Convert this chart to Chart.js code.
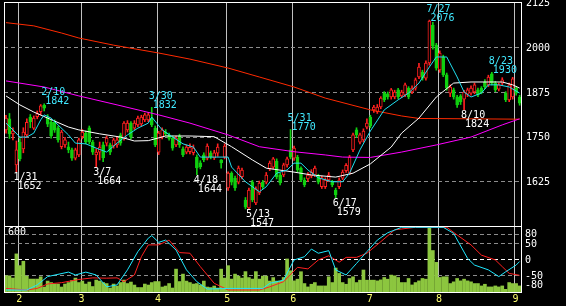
<!DOCTYPE html>
<html>
<head>
<meta charset="utf-8">
<script src="https://cdn.jsdelivr.net/npm/chart.js@4"></script>
<style>
  html, body { margin: 0; background: #000; }
  #wrap { width: 566px; height: 306px; }
</style>
</head>
<body>
<div id="wrap"><canvas id="chart" width="566" height="306"></canvas></div>
<script>
// daily candles, index 0 = 1/26 ... 148 = 9/2
const openP = [
  1769,1800,1758,1671,1735,1716,1755,1805,1774,1806,1820,1838,1805,1790,1790,1775,1722,1727,1722,1713,1690,1699,
  1750,1760,1775,1735,1699,1707,1727,1732,1727,1724,1727,1755,1746,1769,1788,1774,1783,1786,1797,1797,1802,1774,
  1707,1749,1763,1755,1746,1727,1752,1716,1707,1708,1705,1693,1677,1699,1690,1705,1691,1704,1685,1693,
  1607,1648,1634,1623,1638,1573,1551,1623,1565,1593,1623,1623,1660,1665,1682,1643,1643,1671,1713,
  1690,1693,1662,1629,1632,1640,1643,1640,1610,1610,1629,1623,1601,1610,1634,1655,1648,1713,1769,1735,1741,1777,
  1805,1825,1820,1833,1872,1870,1861,1861,1881,1864,1867,1886,1875,1886,1917,1931,1914,1956,2062,2006,
  1937,1973,1923,1872,1881,1861,1864,1855,1869,1872,1875,1881,1886,1903,1895,1926,1900,1883,1900,1872,1853,1861,
  1886,1861
];
const highP = [
  1810,1815,1775,1738,1745,1775,1800,1812,1808,1822,1840,1842,1812,1796,1797,1780,1768,1748,1735,1718,1718,1746,
  1770,1766,1780,1740,1716,1735,1735,1752,1732,1746,1750,1760,1792,1795,1792,1795,1808,1810,1816,1818,1832,1780,
  1765,1775,1770,1760,1752,1752,1757,1722,1727,1730,1727,1699,1683,1705,1730,1710,1712,1730,1686,1730,
  1652,1652,1640,1668,1662,1580,1606,1628,1610,1626,1628,1650,1682,1692,1688,1648,1676,1693,1770,
  1724,1698,1666,1635,1650,1658,1668,1645,1640,1635,1650,1628,1606,1635,1657,1675,1698,1760,1775,1760,1772,1800,
  1810,1838,1840,1862,1876,1875,1885,1880,1885,1880,1900,1890,1892,1914,1955,1936,1962,2076,2070,2011,
  1990,1978,1928,1895,1886,1866,1868,1880,1886,1892,1900,1886,1890,1910,1922,1930,1905,1900,1915,1876,1900,1916,
  1890,1866
];
const lowP = [
  1760,1745,1741,1652,1682,1705,1748,1775,1770,1800,1812,1822,1778,1746,1762,1735,1716,1720,1705,1684,1685,1694,
  1744,1730,1730,1700,1664,1685,1680,1724,1700,1718,1720,1726,1740,1763,1744,1770,1778,1780,1792,1792,1778,1722,
  1700,1744,1752,1740,1712,1722,1720,1694,1702,1702,1699,1644,1660,1680,1685,1688,1686,1695,1662,1688,
  1600,1615,1600,1618,1632,1548,1547,1568,1560,1588,1605,1618,1655,1660,1632,1615,1638,1665,1688,
  1684,1652,1624,1610,1625,1635,1638,1618,1605,1605,1624,1610,1579,1605,1630,1650,1644,1708,1748,1730,1735,1772,
  1775,1818,1815,1828,1848,1855,1855,1856,1856,1860,1862,1856,1870,1880,1912,1908,1908,1950,1995,1936,
  1930,1918,1880,1862,1855,1832,1840,1824,1862,1866,1870,1862,1870,1884,1890,1895,1876,1878,1895,1848,1848,1855,
  1866,1838
];
const closeP = [
  1802,1758,1766,1713,1688,1763,1790,1791,1802,1815,1836,1830,1785,1752,1768,1741,1763,1741,1713,1690,1713,1741,
  1763,1735,1736,1707,1707,1721,1691,1746,1707,1741,1741,1732,1788,1788,1749,1788,1802,1805,1811,1811,1783,1727,
  1760,1769,1758,1745,1718,1746,1727,1699,1721,1720,1718,1663,1666,1685,1724,1694,1705,1721,1677,1724,
  1648,1623,1607,1662,1657,1553,1601,1573,1604,1620,1610,1643,1676,1688,1638,1621,1671,1688,1693,
  1718,1657,1629,1615,1643,1651,1662,1623,1635,1629,1643,1615,1587,1629,1651,1670,1693,1755,1755,1755,1766,1788,
  1780,1833,1833,1858,1853,1861,1881,1875,1861,1875,1895,1861,1886,1909,1945,1914,1956,2073,2003,1942,
  1984,1923,1886,1889,1861,1839,1847,1875,1881,1886,1895,1867,1875,1889,1917,1900,1881,1895,1909,1853,1895,1912,
  1872,1844
];
const volume = [
  173,173,150,393,275,319,170,140,140,140,163,60,120,105,90,90,60,90,105,125,150,105,
  120,90,110,65,130,120,105,95,50,90,70,105,130,95,110,80,55,55,90,80,105,115,
  115,60,70,95,50,240,115,190,120,105,90,95,80,120,60,55,70,50,240,150,
  275,140,190,170,150,215,155,140,215,140,170,170,120,155,120,120,156,342,224,
  122,139,214,95,61,88,105,71,71,71,163,105,251,197,105,88,146,163,105,129,231,129,
  129,129,122,132,156,139,180,173,156,105,105,146,81,105,122,146,139,658,427,308,
  156,163,163,95,112,146,122,139,122,112,95,95,71,88,61,61,71,61,71,37,105,95,
  95,71
];

// moving averages: [day index, price]
const maShort = [[0,1788],[2,1769],[4,1749],[6,1749],[8,1760],[10,1797],[11,1811],[13,1802],[15,1783],[18,1755],
  [20,1732],[23,1730],[26,1718],[29,1707],[32,1732],[35,1755],[38,1774],[41,1788],[42,1805],[45,1769],[48,1749],
  [51,1730],[54,1721],[56,1693],[60,1693],[64,1693],[65,1665],[69,1624],[73,1596],[75,1610],[78,1648],[81,1657],
  [83,1676],[85,1676],[87,1657],[90,1635],[94,1624],[97,1624],[99,1648],[102,1713],[105,1766],[109,1825],[113,1853],
  [116,1872],[119,1900],[122,1945],[124,1973],[127,1973],[130,1917],[132,1875],[134,1861],[137,1872],[139,1895],
  [142,1895],[145,1889],[148,1872]];
const ma25 = [[0,1864],[4,1839],[8,1819],[12,1802],[18,1777],[21,1769],[27,1758],[33,1749],[37,1738],[41,1739],
  [46,1752],[53,1752],[60,1750],[65,1722],[71,1685],[75,1662],[83,1651],[88,1643],[95,1637],[100,1648],[105,1674],
  [111,1721],[114,1760],[119,1802],[124,1861],[129,1900],[134,1903],[143,1903],[146,1895],[148,1886]];
const ma75 = [[0,1906],[11,1889],[21,1864],[32,1839],[44,1811],[53,1788],[64,1755],[73,1722],[83,1708],[92,1699],
  [97,1693],[105,1692],[114,1707],[124,1727],[134,1749],[143,1783],[148,1800]];
const ma200 = [[0,2069],[8,2060],[16,2040],[21,2026],[31,2006],[44,1984],[53,1967],[64,1942],[73,1917],[83,1889],
  [92,1858],[105,1825],[114,1808],[119,1801],[148,1799]];

// oscillators in the lower panel: [day index, value]
const oscFast = [[0,-96],[6,-96],[9,-80],[12,-54],[18,-40],[20,-49],[23,-40],[26,-49],[29,-86],[32,-80],[35,-33],
  [38,24],[41,66],[42,74],[44,53],[46,60],[49,29],[52,-33],[55,-70],[58,-93],[64,-91],[74,-91],[76,-75],[80,-65],
  [83,-2],[86,8],[88,32],[90,19],[93,27],[95,-33],[98,-49],[101,-13],[104,24],[107,60],[110,83],[114,100],[118,100],
  [126,100],[129,81],[133,3],[135,-18],[139,-33],[142,-54],[144,-39],[147,-18],[148,-7]];
const oscSlow = [[0,-91],[6,-96],[9,-91],[12,-77],[16,-73],[21,-63],[25,-58],[29,-59],[32,-58],[34,-70],[37,-49],
  [39,8],[41,45],[44,45],[47,60],[50,21],[53,19],[56,-23],[60,-75],[64,-96],[73,-96],[76,-86],[80,-70],[84,-25],
  [87,-30],[90,-2],[93,11],[96,-9],[98,6],[101,6],[104,19],[108,55],[112,92],[118,100],[127,100],[130,76],[134,45],
  [137,13],[141,-2],[143,-23],[145,-44],[148,-50]];

const priceTicks = [2125, 2000, 1875, 1750, 1625];
const oscTicks = [80, 50, 0, -50, -80];
const monthStarts = [3.5, 21.5, 43.5, 63.5, 82.5, 104.5, 124.5, 146.5];
const monthLabels = ['2', '3', '4', '5', '6', '7', '8', '9'];
// [day index, date, price]
const highMarks = [[11,'2/10',1842],[42,'3/30',1832],[82,'5/31',1770],[122,'7/27',2076],[140,'8/23',1930]];
const lowMarks = [[3,'1/31',1652],[26,'3/7',1664],[55,'4/18',1644],[70,'5/13',1547],[95,'6/17',1579],[132,'8/10',1824]];

const RED = '#ff2020';
const GREEN = '#10d010';
const FONT = '10px "DejaVu Sans Mono", monospace';

const isUp = openP.map((o, i) => closeP[i] >= o);
const pts = arr => arr.map(p => ({ x: p[0], y: p[1] }));

function hline(ctx, x1, x2, y) {
  ctx.beginPath(); ctx.moveTo(x1, y); ctx.lineTo(x2, y); ctx.stroke();
}

const panelPlugin = {
  id: 'panel',
  beforeDatasetsDraw(chart) {
    const { ctx, chartArea: a, scales } = chart;
    ctx.save();
    ctx.lineWidth = 1;
    // month lines
    ctx.strokeStyle = '#c0c0c0';
    monthStarts.forEach(m => {
      const px = Math.round(scales.x.getPixelForValue(m)) + 0.5;
      ctx.beginPath(); ctx.moveTo(px, a.top); ctx.lineTo(px, a.bottom); ctx.stroke();
    });
    ctx.setLineDash([4, 3]);
    ctx.strokeStyle = '#8c8c8c';
    priceTicks.slice(1).forEach(t => hline(ctx, a.left, a.right, Math.round(scales.y.getPixelForValue(t)) + 0.5));
    [80, 50, -50].forEach(t => hline(ctx, a.left, a.right, Math.round(scales.yo.getPixelForValue(t)) + 0.5));
    ctx.strokeStyle = '#ffffff';
    hline(ctx, a.left, a.right, Math.round(scales.yo.getPixelForValue(0)) + 0.5);
    ctx.restore();
  },
  afterDatasetsDraw(chart) {
    const { ctx, chartArea: a, scales } = chart;
    ctx.save();
    ctx.lineWidth = 1;
    ctx.strokeStyle = '#ffffff';
    ctx.strokeRect(a.left + 0.5, a.top + 0.5, a.right - a.left - 1, a.bottom - a.top - 1);
    hline(ctx, a.left, a.right, Math.round(scales.y.getPixelForValue(1500)) + 0.5);

    ctx.font = FONT;
    ctx.fillStyle = '#ffffff';
    ctx.textAlign = 'left';
    ctx.textBaseline = 'middle';
    priceTicks.forEach(t => ctx.fillText(String(t), a.right + 4, scales.y.getPixelForValue(t) + 1));
    oscTicks.forEach(t => ctx.fillText(String(t), a.right + 3, scales.yo.getPixelForValue(t) + 1));
    ctx.textBaseline = 'alphabetic';
    ctx.fillText('600', a.left + 4, scales.yv.getPixelForValue(600) + 2);

    ctx.fillStyle = '#ffff70';
    ctx.textAlign = 'center';
    ctx.textBaseline = 'middle';
    monthStarts.forEach((m, k) => ctx.fillText(monthLabels[k], scales.x.getPixelForValue(m) + 1, 299));

    ctx.textAlign = 'left';
    ctx.textBaseline = 'alphabetic';
    ctx.fillStyle = '#40e8ff';
    highMarks.forEach(([i, d, p]) => {
      const px = scales.x.getPixelForValue(i), py = scales.y.getPixelForValue(p);
      ctx.fillText(d, px - 3, py - 8.5);
      ctx.fillText(String(p), px + 1, py + 0.5);
    });
    ctx.fillStyle = '#ffffff';
    lowMarks.forEach(([i, d, p]) => {
      const px = scales.x.getPixelForValue(i), py = scales.y.getPixelForValue(p);
      ctx.fillText(d, px - 3, py + 8);
      ctx.fillText(String(p), px + 1, py + 17);
    });
    ctx.restore();
  }
};

const lineSet = (data, color, axis, order) => ({
  type: 'line', data: pts(data), yAxisID: axis, borderColor: color, borderWidth: 1,
  pointRadius: 0, tension: 0, order: order
});

new Chart(document.getElementById('chart'), {
  type: 'bar',
  data: {
    datasets: [
      { data: volume.map((v, i) => ({ x: i, y: v })), yAxisID: 'yv', backgroundColor: '#8cc63f',
        barThickness: 3, grouped: false, order: 20 },
      { data: lowP.map((l, i) => ({ x: i, y: [l, highP[i]] })), yAxisID: 'y',
        backgroundColor: isUp.map(u => u ? RED : GREEN), barThickness: 1, grouped: false, order: 12 },
      { data: openP.map((o, i) => ({ x: i, y: [o, closeP[i]] })), yAxisID: 'y',
        backgroundColor: isUp.map(u => u ? '#000000' : GREEN), borderColor: isUp.map(u => u ? RED : GREEN),
        borderWidth: 1, borderSkipped: false, barThickness: 3, grouped: false, order: 11 },
      lineSet(ma200, '#ff2a00', 'y', 5),
      lineSet(ma75, '#ff00ff', 'y', 4),
      lineSet(ma25, '#ffffff', 'y', 3),
      lineSet(maShort, '#20e0f0', 'y', 2),
      lineSet(oscSlow, '#ff2020', 'yo', 7),
      lineSet(oscFast, '#20e8ff', 'yo', 6)
    ]
  },
  options: {
    responsive: false,
    animation: false,
    devicePixelRatio: 1,
    layout: { padding: { left: 4, top: 2, right: 44, bottom: 13 } },
    plugins: { legend: { display: false }, tooltip: { enabled: false } },
    scales: {
      x: { type: 'linear', min: -0.576, max: 148.69, offset: false, display: false },
      y: { type: 'linear', min: 1312.9, max: 2126.7, display: false },
      yo: { type: 'linear', min: -105.3, max: 804, display: false },
      yv: { type: 'linear', min: 0, max: 2925, display: false }
    }
  },
  plugins: [panelPlugin]
});
</script>
</body>
</html>
